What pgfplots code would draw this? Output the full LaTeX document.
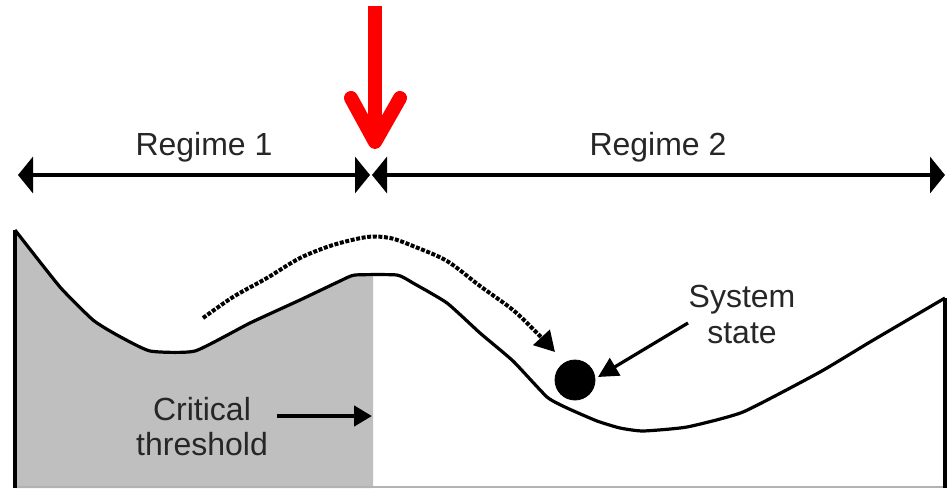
\documentclass[border=0pt]{standalone}
\usepackage{pgfplots}
\pgfplotsset{compat=1.18}
\usepackage{fontspec}
\setmainfont{Liberation Sans}
\usetikzlibrary{arrows.meta}
\begin{document}
\begin{tikzpicture}
\begin{axis}[width=473.5pt,height=244pt,scale only axis,
  xmin=0,xmax=947,ymin=0,ymax=488,y dir=reverse,hide axis,clip=false]
% gray region (regime 1 basin)
\addplot[fill=gray!50,draw=none] coordinates {(15,488) (15,230) (60,287) (93,320) (117,335) (150,351) (195,351) (250,323) (300,300) (340,281) (355,275) (373,275) (373,488)} -- cycle;
\addplot[gray!60,line width=0.6pt] coordinates {(15,487) (945,487)};
% landscape curve
\addplot[black,line width=1.6pt,line join=round,smooth,tension=0.3] coordinates {(15,230) (60,287) (93,320) (117,335) (150,351) (195,351) (250,323) (300,300) (340,281) (355,275) (397,275) (413,283) (447,303) (480,333) (513,361) (547,397) (567,408) (597,421) (620,428) (643,431) (687,427) (743,412) (820,372) (870,342) (945,298)};
\addplot[black,line width=2pt] coordinates {(15,230) (15,488)};
\addplot[black,line width=2pt] coordinates {(945,298) (945,488)};
% dotted trajectory
\addplot[black,line width=2pt,dash pattern=on 2pt off 0.8pt,smooth,tension=0.5,-{Triangle[length=10pt,width=11pt]}] coordinates {(203,318) (233,297) (267,278) (300,258) (333,245) (367,237) (390,238) (413,246) (447,261) (480,286) (513,310) (537,333) (555,352)};
% system state ball
\addplot[only marks,mark=*,mark size=10pt,black] coordinates {(575,380)};
\addplot[black,line width=1.6pt,-{Triangle[length=10pt,width=10pt]}] coordinates {(688,323) (598,377)};
% critical threshold arrow
\addplot[black,line width=2.2pt,-{Triangle[length=9pt,width=10pt]}] coordinates {(277,416) (372,416)};
% regime arrows
\addplot[black,line width=2pt,{Triangle[length=7.5pt,width=18pt]}-{Triangle[length=7.5pt,width=18pt]}] coordinates {(18,175) (370,175)};
\addplot[black,line width=2pt,{Triangle[length=7.5pt,width=18pt]}-{Triangle[length=7.5pt,width=18pt]}] coordinates {(372,175) (945,175)};
% red arrow
\addplot[red,line width=7pt] coordinates {(375,6) (375,135)};
\addplot[red,line width=7pt,line cap=round,line join=round] coordinates {(351,98) (375,142) (400,98)};
% labels
\node[anchor=base,font=\fontsize{16}{18}\selectfont,text=black!85] at (axis cs:204,155) {Regime 1};
\node[anchor=base,font=\fontsize{16}{18}\selectfont,text=black!85] at (axis cs:658,155) {Regime 2};
\node[anchor=base,font=\fontsize{16}{18}\selectfont,text=black!85] at (axis cs:202,420) {Critical};
\node[anchor=base,font=\fontsize{16}{18}\selectfont,text=black!85] at (axis cs:202,455) {threshold};
\node[anchor=base,font=\fontsize{16}{18}\selectfont,text=black!85] at (axis cs:742,307) {System};
\node[anchor=base,font=\fontsize{16}{18}\selectfont,text=black!85] at (axis cs:742,343) {state};
\end{axis}
\pgfresetboundingbox
\path (current axis.south west) rectangle (current axis.north east);
\end{tikzpicture}
\end{document}
